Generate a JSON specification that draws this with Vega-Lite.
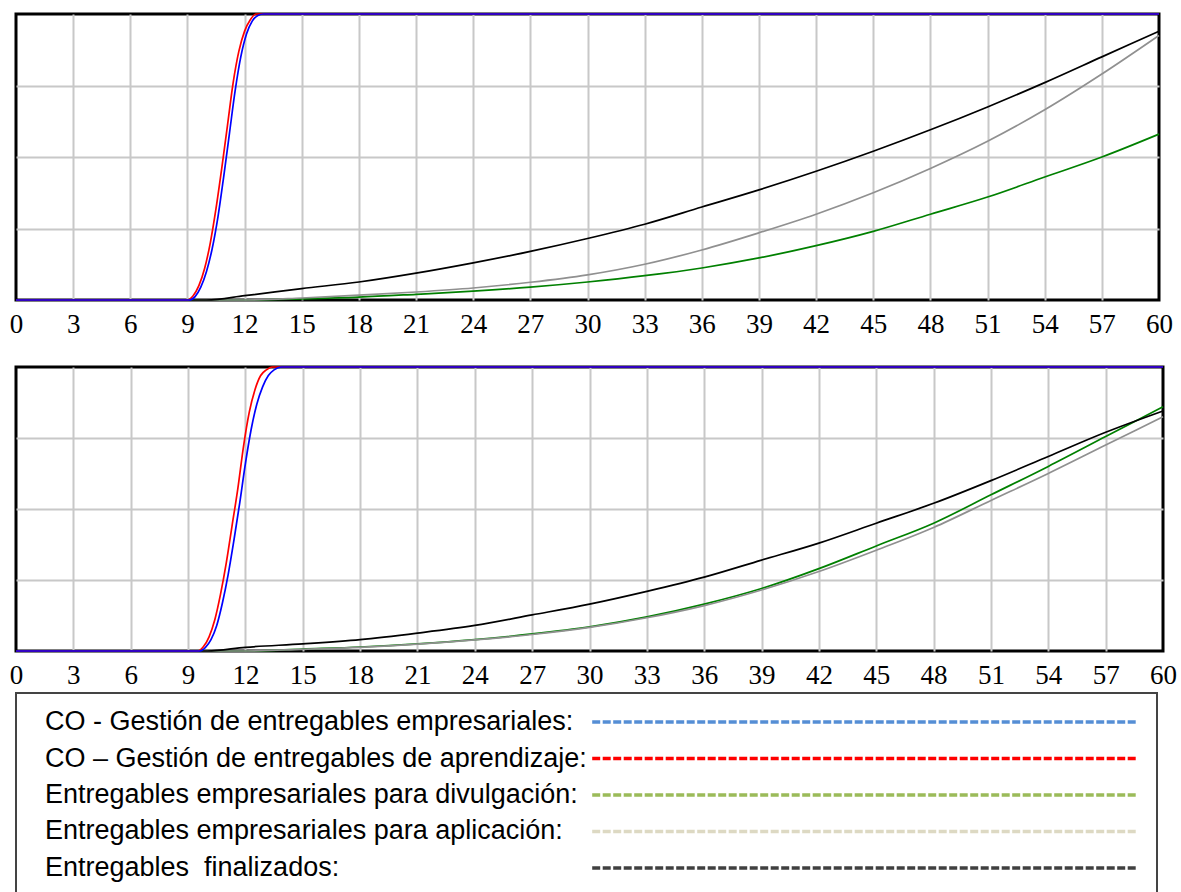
{
  "$schema": "https://vega.github.io/schema/vega-lite/v6.json",
  "padding": {"left": 7, "top": 9, "right": 0, "bottom": 0},
  "background": "white",
  "bounds": "flush",
  "spacing": 67,
  "resolve": {"scale": {"x": "independent", "y": "independent", "color": "independent", "stroke": "independent"}},
  "datasets": {
    "top": [
      {"s":"div","t":0,"v":0},{"s":"div","t":12,"v":0},{"s":"div","t":15,"v":0.004},{"s":"div","t":18,"v":0.01},{"s":"div","t":21,"v":0.02},{"s":"div","t":24,"v":0.031},{"s":"div","t":27,"v":0.045},{"s":"div","t":30,"v":0.063},{"s":"div","t":33,"v":0.085},{"s":"div","t":36,"v":0.112},{"s":"div","t":39,"v":0.147},{"s":"div","t":42,"v":0.19},{"s":"div","t":45,"v":0.24},{"s":"div","t":48,"v":0.30},{"s":"div","t":51,"v":0.36},{"s":"div","t":54,"v":0.43},{"s":"div","t":57,"v":0.50},{"s":"div","t":60,"v":0.58},
      {"s":"apl","t":0,"v":0},{"s":"apl","t":12,"v":0},{"s":"apl","t":15,"v":0.007},{"s":"apl","t":18,"v":0.017},{"s":"apl","t":21,"v":0.028},{"s":"apl","t":24,"v":0.042},{"s":"apl","t":27,"v":0.062},{"s":"apl","t":30,"v":0.088},{"s":"apl","t":33,"v":0.125},{"s":"apl","t":36,"v":0.175},{"s":"apl","t":39,"v":0.235},{"s":"apl","t":42,"v":0.30},{"s":"apl","t":45,"v":0.375},{"s":"apl","t":48,"v":0.46},{"s":"apl","t":51,"v":0.555},{"s":"apl","t":54,"v":0.665},{"s":"apl","t":57,"v":0.79},{"s":"apl","t":60,"v":0.925},
      {"s":"fin","t":0,"v":0},{"s":"fin","t":10,"v":0},{"s":"fin","t":12,"v":0.015},{"s":"fin","t":15,"v":0.04},{"s":"fin","t":18,"v":0.063},{"s":"fin","t":21,"v":0.094},{"s":"fin","t":24,"v":0.13},{"s":"fin","t":27,"v":0.17},{"s":"fin","t":30,"v":0.215},{"s":"fin","t":33,"v":0.265},{"s":"fin","t":36,"v":0.325},{"s":"fin","t":39,"v":0.385},{"s":"fin","t":42,"v":0.45},{"s":"fin","t":45,"v":0.52},{"s":"fin","t":48,"v":0.595},{"s":"fin","t":51,"v":0.675},{"s":"fin","t":54,"v":0.76},{"s":"fin","t":57,"v":0.85},{"s":"fin","t":60,"v":0.94},
      {"s":"apr","t":0,"v":0},{"s":"apr","t":9,"v":0},{"s":"apr","t":9.3,"v":0.015},{"s":"apr","t":9.6,"v":0.05},{"s":"apr","t":9.9,"v":0.11},{"s":"apr","t":10.2,"v":0.2},{"s":"apr","t":10.5,"v":0.32},{"s":"apr","t":10.8,"v":0.46},{"s":"apr","t":11.1,"v":0.61},{"s":"apr","t":11.4,"v":0.76},{"s":"apr","t":11.7,"v":0.87},{"s":"apr","t":12,"v":0.94},{"s":"apr","t":12.3,"v":0.98},{"s":"apr","t":12.6,"v":1},{"s":"apr","t":60,"v":1},
      {"s":"emp","t":0,"v":0},{"s":"emp","t":9.1,"v":0},{"s":"emp","t":9.4,"v":0.012},{"s":"emp","t":9.7,"v":0.045},{"s":"emp","t":10,"v":0.1},{"s":"emp","t":10.3,"v":0.18},{"s":"emp","t":10.6,"v":0.29},{"s":"emp","t":10.9,"v":0.43},{"s":"emp","t":11.2,"v":0.58},{"s":"emp","t":11.5,"v":0.73},{"s":"emp","t":11.8,"v":0.85},{"s":"emp","t":12.1,"v":0.93},{"s":"emp","t":12.4,"v":0.975},{"s":"emp","t":12.7,"v":0.995},{"s":"emp","t":13,"v":1},{"s":"emp","t":60,"v":1}
    ],
    "bottom": [
      {"s":"div","t":0,"v":0},{"s":"div","t":12,"v":0},{"s":"div","t":15,"v":0.007},{"s":"div","t":18,"v":0.014},{"s":"div","t":21,"v":0.025},{"s":"div","t":24,"v":0.04},{"s":"div","t":27,"v":0.06},{"s":"div","t":30,"v":0.085},{"s":"div","t":33,"v":0.12},{"s":"div","t":36,"v":0.165},{"s":"div","t":39,"v":0.22},{"s":"div","t":42,"v":0.29},{"s":"div","t":45,"v":0.37},{"s":"div","t":48,"v":0.45},{"s":"div","t":51,"v":0.55},{"s":"div","t":54,"v":0.65},{"s":"div","t":57,"v":0.755},{"s":"div","t":60,"v":0.86},
      {"s":"apl","t":0,"v":0},{"s":"apl","t":12,"v":0},{"s":"apl","t":15,"v":0.006},{"s":"apl","t":18,"v":0.013},{"s":"apl","t":21,"v":0.024},{"s":"apl","t":24,"v":0.039},{"s":"apl","t":27,"v":0.058},{"s":"apl","t":30,"v":0.083},{"s":"apl","t":33,"v":0.117},{"s":"apl","t":36,"v":0.16},{"s":"apl","t":39,"v":0.215},{"s":"apl","t":42,"v":0.28},{"s":"apl","t":45,"v":0.355},{"s":"apl","t":48,"v":0.435},{"s":"apl","t":51,"v":0.53},{"s":"apl","t":54,"v":0.625},{"s":"apl","t":57,"v":0.725},{"s":"apl","t":60,"v":0.825},
      {"s":"fin","t":0,"v":0},{"s":"fin","t":10,"v":0},{"s":"fin","t":12,"v":0.013},{"s":"fin","t":15,"v":0.025},{"s":"fin","t":18,"v":0.04},{"s":"fin","t":21,"v":0.063},{"s":"fin","t":24,"v":0.09},{"s":"fin","t":27,"v":0.127},{"s":"fin","t":30,"v":0.165},{"s":"fin","t":33,"v":0.21},{"s":"fin","t":36,"v":0.26},{"s":"fin","t":39,"v":0.32},{"s":"fin","t":42,"v":0.38},{"s":"fin","t":45,"v":0.45},{"s":"fin","t":48,"v":0.52},{"s":"fin","t":51,"v":0.60},{"s":"fin","t":54,"v":0.685},{"s":"fin","t":57,"v":0.77},{"s":"fin","t":60,"v":0.845},
      {"s":"apr","t":0,"v":0},{"s":"apr","t":9.5,"v":0},{"s":"apr","t":9.8,"v":0.015},{"s":"apr","t":10.1,"v":0.05},{"s":"apr","t":10.4,"v":0.11},{"s":"apr","t":10.7,"v":0.2},{"s":"apr","t":11,"v":0.31},{"s":"apr","t":11.3,"v":0.44},{"s":"apr","t":11.6,"v":0.57},{"s":"apr","t":11.9,"v":0.72},{"s":"apr","t":12.2,"v":0.84},{"s":"apr","t":12.5,"v":0.92},{"s":"apr","t":12.8,"v":0.97},{"s":"apr","t":13.1,"v":0.99},{"s":"apr","t":13.4,"v":1},{"s":"apr","t":60,"v":1},
      {"s":"emp","t":0,"v":0},{"s":"emp","t":9.6,"v":0},{"s":"emp","t":9.9,"v":0.012},{"s":"emp","t":10.2,"v":0.04},{"s":"emp","t":10.5,"v":0.09},{"s":"emp","t":10.8,"v":0.17},{"s":"emp","t":11.1,"v":0.27},{"s":"emp","t":11.4,"v":0.39},{"s":"emp","t":11.7,"v":0.52},{"s":"emp","t":12,"v":0.66},{"s":"emp","t":12.3,"v":0.78},{"s":"emp","t":12.6,"v":0.87},{"s":"emp","t":12.9,"v":0.93},{"s":"emp","t":13.2,"v":0.97},{"s":"emp","t":13.5,"v":0.99},{"s":"emp","t":13.9,"v":1},{"s":"emp","t":60,"v":1}
    ],
    "legend": [
      {"k":"emp","label":"CO - Gestión de entregables empresariales:"},
      {"k":"apr","label":"CO – Gestión de entregables de aprendizaje:"},
      {"k":"div","label":"Entregables empresariales para divulgación:"},
      {"k":"apl","label":"Entregables empresariales para aplicación:"},
      {"k":"fin","label":"Entregables\u00a0 finalizados:"}
    ]
  },
  "vconcat": [
    {
      "data": {"name": "top"},
      "width": 1143,
      "height": 286,
      "mark": {"type": "line", "interpolate": "monotone", "strokeWidth": 1.7},
      "encoding": {
        "x": {"field": "t", "type": "quantitative", "scale": {"domain": [0, 60], "nice": false, "zero": false},
          "axis": {"values": [0,3,6,9,12,15,18,21,24,27,30,33,36,39,42,45,48,51,54,57,60], "title": null, "grid": true, "ticks": false, "tickSize": 0, "domain": false,
            "gridColor": {"condition": {"test": "datum.value === 0 || datum.value === 60", "value": "rgba(0,0,0,0)"}, "value": "#c8c8c8"},
            "gridWidth": 2, "labelFont": "Liberation Serif", "labelFontSize": 27, "labelColor": "#000000", "labelPadding": 32, "labelBaseline": "alphabetic", "labelFlush": false, "labelOverlap": false}},
        "y": {"field": "v", "type": "quantitative", "scale": {"domain": [0, 1], "nice": false},
          "axis": {"values": [0.25, 0.5, 0.75], "title": null, "grid": true, "labels": false, "ticks": false, "domain": false, "gridColor": "#c8c8c8", "gridWidth": 2}},
        "color": {"field": "s", "type": "nominal",
          "scale": {"domain": ["emp", "apr", "div", "apl", "fin"], "range": ["#0000ff", "#ff0000", "#008000", "#909090", "#000000"]},
          "legend": null}
      }
    },
    {
      "bounds": "flush",
      "spacing": 42,
      "resolve": {"scale": {"x": "independent", "y": "independent", "color": "independent", "stroke": "independent"}},
      "vconcat": [
        {
          "data": {"name": "bottom"},
          "width": 1147,
          "height": 284,
          "mark": {"type": "line", "interpolate": "monotone", "strokeWidth": 1.7},
          "encoding": {
            "x": {"field": "t", "type": "quantitative", "scale": {"domain": [0, 60], "nice": false, "zero": false},
              "axis": {"values": [0,3,6,9,12,15,18,21,24,27,30,33,36,39,42,45,48,51,54,57,60], "title": null, "grid": true, "ticks": false, "tickSize": 0, "domain": false,
                "gridColor": {"condition": {"test": "datum.value === 0 || datum.value === 60", "value": "rgba(0,0,0,0)"}, "value": "#c8c8c8"},
                "gridWidth": 2, "labelFont": "Liberation Serif", "labelFontSize": 27, "labelColor": "#000000", "labelPadding": 32, "labelBaseline": "alphabetic", "labelFlush": false, "labelOverlap": false}},
            "y": {"field": "v", "type": "quantitative", "scale": {"domain": [0, 1], "nice": false},
              "axis": {"values": [0.25, 0.5, 0.75], "title": null, "grid": true, "labels": false, "ticks": false, "domain": false, "gridColor": "#c8c8c8", "gridWidth": 2}},
            "color": {"field": "s", "type": "nominal",
              "scale": {"domain": ["emp", "apr", "div", "apl", "fin"], "range": ["#0000ff", "#ff0000", "#008000", "#909090", "#000000"]},
              "legend": null}
          }
        },
        {
          "data": {"name": "legend"},
          "width": 1141,
          "height": 204,
          "view": {"stroke": "#444444", "strokeWidth": 2, "fill": "#ffffff"},
          "encoding": {
            "y": {"field": "k", "type": "ordinal", "sort": ["emp", "apr", "div", "apl", "fin"], "scale": {"type": "point", "padding": 0.795}, "axis": null}
          },
          "layer": [
            {
              "mark": {"type": "text", "align": "left", "baseline": "middle", "font": "Liberation Sans", "fontSize": 27, "color": "#000000"},
              "encoding": {
                "x": {"datum": 0.0254, "type": "quantitative", "scale": {"domain": [0, 1], "nice": false, "zero": false}, "axis": null},
                "text": {"field": "label", "type": "nominal"}
              }
            },
            {
              "mark": {"type": "rule", "strokeWidth": 3.5, "strokeDash": [8, 2.5]},
              "encoding": {
                "x": {"datum": 0.505, "type": "quantitative", "scale": {"domain": [0, 1], "nice": false, "zero": false}, "axis": null},
                "x2": {"datum": 0.9825},
                "stroke": {"field": "k", "type": "nominal",
                  "scale": {"domain": ["emp", "apr", "div", "apl", "fin"], "range": ["#558ED5", "#FF0000", "#9BBB59", "#DDD9C3", "#404040"]},
                  "legend": null}
              }
            }
          ]
        }
      ]
    }
  ],
  "config": {
    "view": {"stroke": "#000000", "strokeWidth": 3}
  }
}
